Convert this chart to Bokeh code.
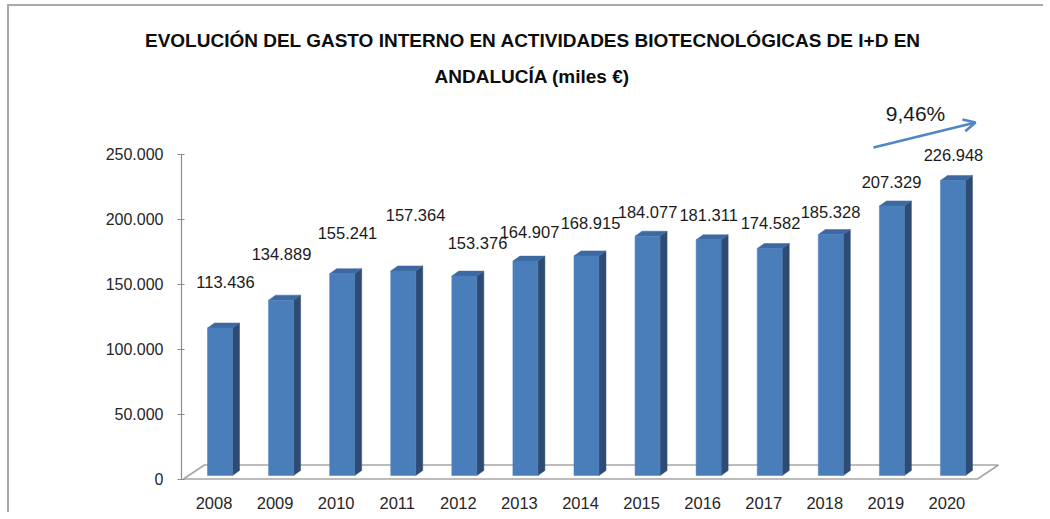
from bokeh.plotting import figure
from bokeh.models import Range1d, FixedTicker, Label, Arrow, OpenHead, ColumnDataSource, Title
from bokeh.core.properties import value
from bokeh.embed import file_html
from bokeh.resources import INLINE

# ---------------- data ----------------
years = ["2008", "2009", "2010", "2011", "2012", "2013", "2014",
         "2015", "2016", "2017", "2018", "2019", "2020"]
gasto = [113436, 134889, 155241, 157364, 153376, 164907, 168915,
         184077, 181311, 174582, 185328, 207329, 226948]
y_ticks = [0, 50000, 100000, 150000, 200000, 250000]
growth_text = "9,46%"
title_line1 = "EVOLUCIÓN DEL GASTO INTERNO  EN ACTIVIDADES BIOTECNOLÓGICAS DE I+D EN"
title_line2 = "ANDALUCÍA (miles €)"

# label nudges (px) relative to each bar's top, as placed in the original
label_dx = [11.5, 6.4, 11.3, 18.3, 19.2, 10.1, 10, 6, 6, 6.8, 5.7, 5.6, 6.5]
label_dy = [-46, -46, -41, -56, -33, -29, -33, -24, -25, -26, -23, -24, -25]

# ---------------- layout (page pixels, canvas offset by OX/OY) ----------------
OX, OY = 9, 6            # canvas origin on the page (after the css frame border)
W, H = 1036, 508
FL, FR, FT, FB = 181, 1010, 95, 483
C0, STEP = 213.5, 61.08  # page x of first category centre, spacing
Y0, K = 478.5, 0.0013    # page y of zero, px per unit

def X(px):
    return (px - C0) / STEP

def Y(py):
    return (Y0 - py) / K

def dxu(px):
    return px / STEP

def dyu(px):
    return px / K

FONT = "Liberation Sans"

p = figure(width=W, height=H, title=None,
           x_range=Range1d(X(FL), X(FR)), y_range=Range1d(Y(FB), Y(FT)),
           output_backend="svg", toolbar_location=None,
           min_border_left=FL - OX, min_border_right=OX + W - FR,
           min_border_top=FT - OY, min_border_bottom=OY + H - FB,
           background_fill_color="white", border_fill_color="white",
           styles={"margin-left": "7px", "margin-top": "4px",
                   "border-left": "2px solid #a9a9a9",
                   "border-top": "2px solid #a9a9a9"})
p.outline_line_color = None
p.grid.visible = False

# ---------------- titles (inner first) ----------------
p.add_layout(Title(text=title_line2, align="left", offset=253, standoff=17,
                   vertical_align="bottom", text_font=FONT, text_font_style="bold",
                   text_font_size="19px", text_color="#0d0d0d"), "above")
p.add_layout(Title(text=title_line1, align="left", offset=-36.5, standoff=10,
                   vertical_align="bottom", text_font=FONT, text_font_style="bold",
                   text_font_size="19px", text_color="#0d0d0d"), "above")

# ---------------- axes ----------------
idx = list(range(len(years)))
p.xaxis.ticker = FixedTicker(ticks=idx)
p.xaxis.major_label_overrides = {i: y for i, y in zip(idx, years)}
p.xaxis.axis_line_color = None
p.xaxis.major_tick_line_color = None
p.xaxis.major_tick_out = 0
p.xaxis.major_tick_in = 0
p.xaxis.minor_tick_line_color = None
p.xaxis.major_label_standoff = 13
p.xaxis.major_label_text_font = FONT
p.xaxis.major_label_text_font_size = "16.5px"
p.xaxis.major_label_text_color = "#262626"

p.yaxis.ticker = FixedTicker(ticks=y_ticks)
p.yaxis.major_label_overrides = {t: f"{t:,}".replace(",", ".") for t in y_ticks}
p.yaxis.bounds = (0, max(y_ticks))
p.yaxis.axis_line_color = "#8c8c8c"
p.yaxis.axis_line_width = 1.2
p.yaxis.major_tick_line_color = "#8c8c8c"
p.yaxis.major_tick_out = 4
p.yaxis.major_tick_in = 3
p.yaxis.minor_tick_line_color = None
p.yaxis.major_label_standoff = 14
p.yaxis.major_label_text_font = FONT
p.yaxis.major_label_text_font_size = "16px"
p.yaxis.major_label_text_color = "#262626"

# ---------------- floor ----------------
n = len(years)
fdx, fdy = dxu(21), dyu(14)
fl, fr = -0.5, n - 0.5
p.patch(x=[fl, fr, fr + fdx, fl + fdx], y=[0, 0, fdy, fdy],
        fill_color="white", line_color="#a6a6a6", line_width=1.6)

# ---------------- 3D bars ----------------
bar_left = [i + dxu(6 - 12.5) for i in idx]
bar_right = [i + dxu(6 + 12.5) for i in idx]
base = dyu(3.5)
bar_top = [v + base for v in gasto]
ddx, ddy = dxu(7), dyu(5)

side_xs = [[r, r + ddx, r + ddx, r] for r in bar_right]
side_ys = [[base, base + ddy, t + ddy, t] for t in bar_top]
top_xs = [[l, r, r + ddx, l + ddx] for l, r in zip(bar_left, bar_right)]
top_ys = [[t, t, t + ddy, t + ddy] for t in bar_top]

p.patches(xs=side_xs, ys=side_ys, fill_color="#2e4b73", line_color="#2e4b73", line_width=0.5)
p.patches(xs=top_xs, ys=top_ys, fill_color="#3d69a3", line_color="#3d69a3", line_width=0.5)
p.quad(left=bar_left, right=bar_right, bottom=base, top=bar_top,
       fill_color="#4a7ebb", line_color="#4a7ebb", line_width=0.5)

# ---------------- data labels ----------------
src = ColumnDataSource(dict(
    x=idx, y=gasto,
    text=[f"{v:,}".replace(",", ".") for v in gasto],
    xo=label_dx, yo=[d - 3.5 for d in label_dy],
))
p.text(x="x", y="y", text="text", x_offset="xo", y_offset="yo", source=src,
       text_align="center", text_baseline="middle",
       text_font=value(FONT), text_font_size="16.5px", text_color="#1a1a1a")

# ---------------- growth arrow ----------------
p.add_layout(Arrow(x_start=X(873), y_start=Y(147), x_end=X(975), y_end=Y(122),
                   line_color="#4f86c6", line_width=2.5,
                   end=OpenHead(size=12, line_color="#4f86c6", line_width=2.5)))
p.add_layout(Label(x=X(915), y=Y(112.5), text=growth_text, text_align="center",
                   text_baseline="middle", text_font=FONT,
                   text_font_size="21px", text_color="#1a1a1a"))

open("out.html", "w").write(file_html(p, INLINE))
